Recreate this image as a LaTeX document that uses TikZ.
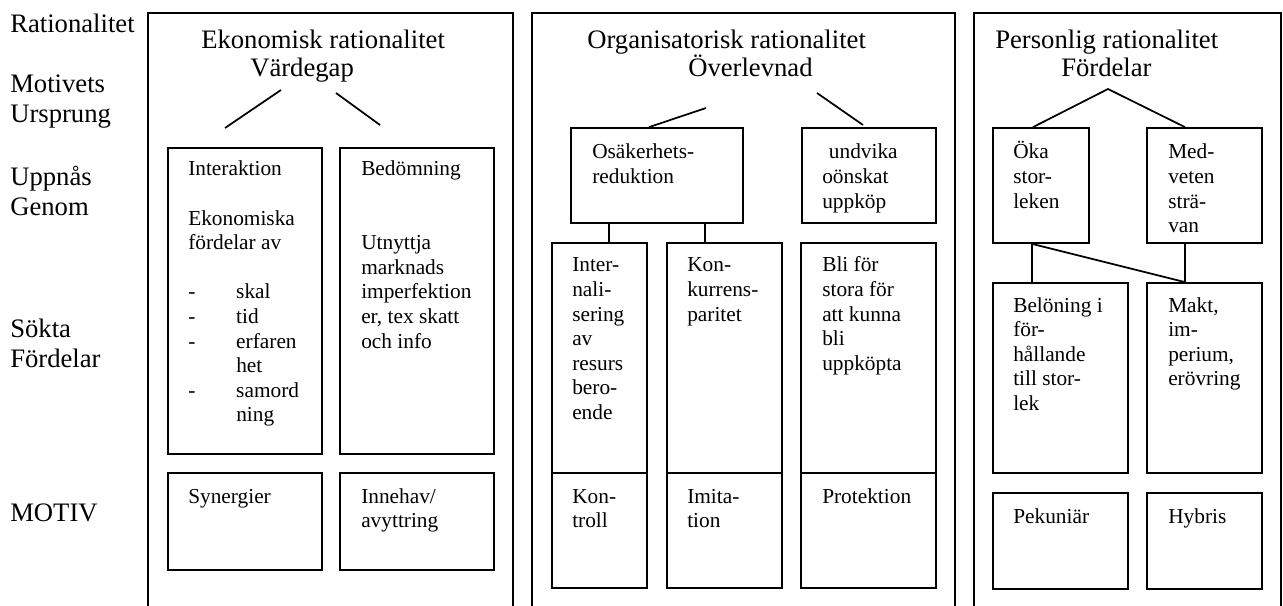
\documentclass[tikz,border=0pt]{standalone}
\usepackage{fontspec}
\setmainfont{Liberation Serif}
\usetikzlibrary{fit}
\newcommand\ml[1]{\begin{tabular}[t]{@{}l@{}}#1\end{tabular}}
\newcommand\dashitem[1]{\makebox[36pt][l]{-}#1}
\newcommand\cont[1]{\hspace*{36pt}#1}
\tikzset{
  frame/.style={draw, line width=1.3pt, inner sep=0pt},
  big/.style={font=\fontsize{20}{22}\selectfont, inner sep=0pt, anchor=base west},
  small/.style={font=\fontsize{16}{18.45}\selectfont, inner sep=0pt, anchor=base west},
  link/.style={line width=1.3pt},
}
\begin{document}
\begin{tikzpicture}[x=0.75pt,y=-0.75pt]
\clip (0,0) rectangle (1283,606);
\fill[white] (0,0) rectangle (1283,606);

% left labels
\node[big] (lRat) at (10,33) {Rationalitet};
\node[big] (lMot) at (10,93) {\ml{Motivets\\Ursprung}};
\node[big] (lUpp) at (10,186) {\ml{Uppnås\\Genom}};
\node[big] (lSok) at (10,338) {\ml{Sökta\\Fördelar}};
\node[big] (lMotiv) at (10,521) {MOTIV};

% panels
\node[frame, fit={(148,13) (513,640)}] (p1) {};
\node[frame, fit={(532,13) (955,640)}] (p2) {};
\node[frame, fit={(974,13) (1281,640)}] (p3) {};

% ---------- panel 1
\node[big] (t1a) at (201,49) {Ekonomisk rationalitet};
\node[big] (t1b) at (250,77) {Värdegap};
\coordinate (c1a) at (281,90);
\coordinate (c1b) at (225,128);
\coordinate (c1c) at (336,93);
\coordinate (c1d) at (380,125);
\draw[link] (c1a) -- (c1b);
\draw[link] (c1c) -- (c1d);

\node[frame, fit={(168,148) (322,454)}] (inter) {};
\node[frame, fit={(340,148) (494,454)}] (bed) {};
\node[frame, fit={(168,473) (322,570)}] (syn) {};
\node[frame, fit={(340,473) (494,570)}] (inn) {};

\node[small] (tInter) at (188,176) {\ml{Interaktion\\ \\ Ekonomiska\\ fördelar av\\ \\
  \dashitem{skal}\\ \dashitem{tid}\\ \dashitem{erfaren}\\ \cont{het}\\ \dashitem{samord}\\ \cont{ning}}};
\node[small] (tBed) at (361,176) {\ml{Bedömning\\ \\ \\ Utnyttja\\ marknads\\ imperfektion\\ er, tex skatt\\ och info}};
\node[small] (tSyn) at (188,503) {Synergier};
\node[small] (tInn) at (361,503) {\ml{Innehav/\\avyttring}};

% ---------- panel 2
\node[big] (t2a) at (587,49) {Organisatorisk rationalitet};
\node[big] (t2b) at (688,77) {Överlevnad};

\node[frame, fit={(571,128) (743,223)}] (osa) {};
\node[frame, fit={(802,128) (936,223)}] (und) {};
\node[frame, fit={(552,243) (647,473)}] (int2) {};
\node[frame, fit={(667,243) (782,473)}] (kon) {};
\node[frame, fit={(801,243) (936,473)}] (bli) {};
\node[frame, fit={(552,473) (647,588)}] (ktr) {};
\node[frame, fit={(667,473) (782,588)}] (imi) {};
\node[frame, fit={(801,473) (936,588)}] (pro) {};

\coordinate (c2a) at (706,108);
\coordinate (c2c) at (817,93);
\coordinate (c2d) at (863,125);
\draw[link] (c2a) -- (osa.north -| 649,0);
\draw[link] (c2c) -- (c2d);
\draw[link] (osa.south -| 609,0) -- (int2.north -| 609,0);
\draw[link] (osa.south -| 705,0) -- (kon.north -| 705,0);

\node[small] (tOsa) at (592,159) {\ml{Osäkerhets-\\reduktion}};
\node[small] (tUnd) at (822,159) {\ml{\hspace*{5pt}undvika\\oönskat\\uppköp}};
\node[small] (tInt2) at (572,272) {\ml{Inter-\\nali-\\sering\\av\\resurs\\bero-\\ende}};
\node[small] (tKon) at (687,272) {\ml{Kon-\\kurrens-\\paritet}};
\node[small] (tBli) at (822,272) {\ml{Bli för\\stora för\\att kunna\\bli\\uppköpta}};
\node[small] (tKtr) at (572,503) {\ml{Kon-\\troll}};
\node[small] (tImi) at (687,503) {\ml{Imita-\\tion}};
\node[small] (tPro) at (822,503) {Protektion};

% ---------- panel 3
\node[big] (t3a) at (995,49) {Personlig rationalitet};
\node[big] (t3b) at (1061,77) {Fördelar};

\node[frame, fit={(993,128) (1089,243)}] (oka) {};
\node[frame, fit={(1147,128) (1262,243)}] (med) {};
\node[frame, fit={(993,283) (1128,473)}] (bel) {};
\node[frame, fit={(1147,283) (1262,473)}] (makt) {};
\node[frame, fit={(993,493) (1128,589)}] (pek) {};
\node[frame, fit={(1147,493) (1262,589)}] (hyb) {};

\coordinate (apex) at (1108,89);
\draw[link] (oka.north -| 1033,0) -- (apex) -- (med.north -| 1185,0);
\draw[link] (oka.south -| 1032,0) -- (bel.north -| 1032,0);
\draw[link] (med.south -| 1185,0) -- (makt.north -| 1185,0);
\draw[link] (oka.south -| 1032,0) -- (makt.north -| 1185,0);

\node[small] (tOka) at (1013,159) {\ml{Öka\\stor-\\leken}};
\node[small] (tMed) at (1168,159) {\ml{Med-\\veten\\strä-\\van}};
\node[small] (tBel) at (1013,312) {\ml{Belöning i\\för-\\hållande\\till stor-\\lek}};
\node[small] (tMakt) at (1168,312) {\ml{Makt,\\im-\\perium,\\erövring}};
\node[small] (tPek) at (1013,523) {Pekuniär};
\node[small] (tHyb) at (1168,523) {Hybris};
\end{tikzpicture}
\end{document}
